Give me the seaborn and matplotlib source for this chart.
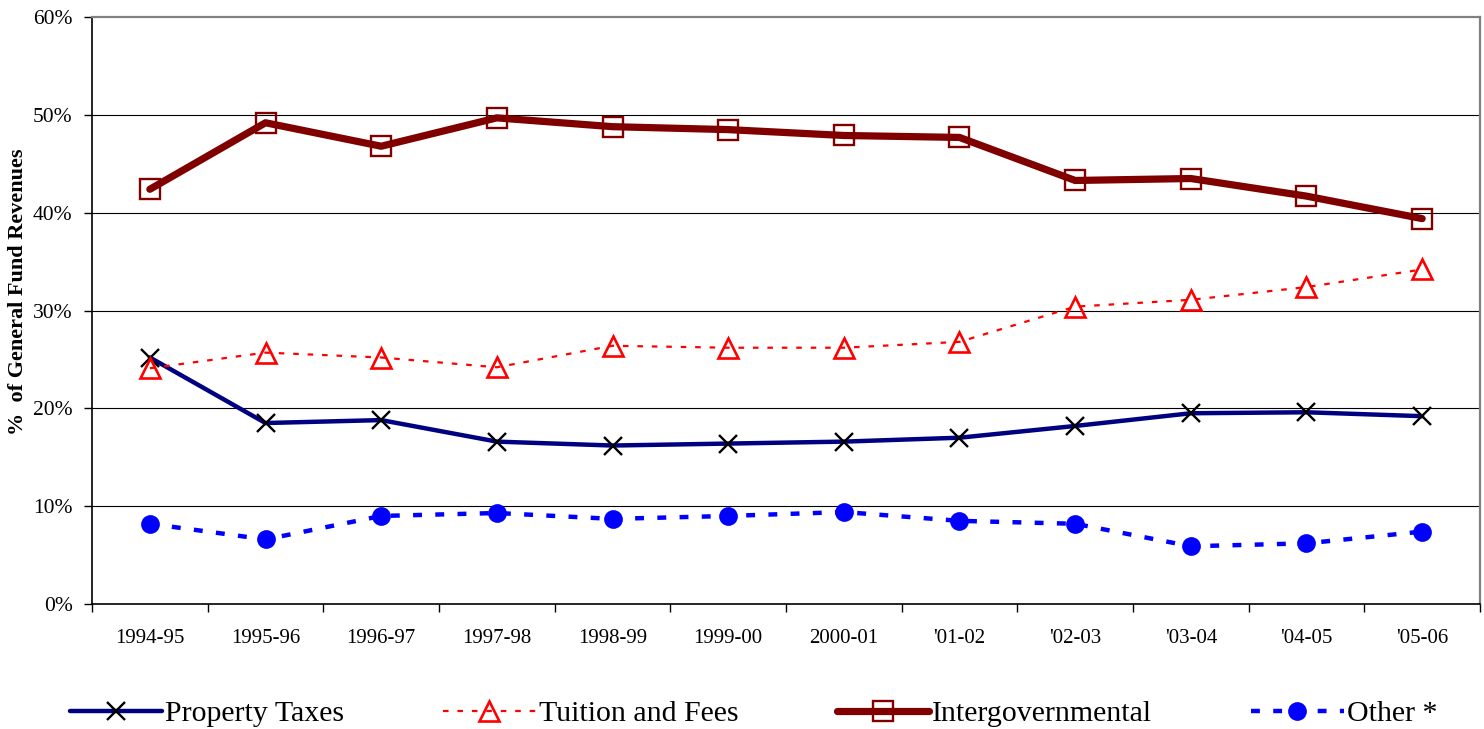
import numpy as np
import pandas as pd
import matplotlib
matplotlib.use("Agg")
import matplotlib.pyplot as plt
import seaborn as sns

# Fiscal years on the category axis
years = ["1994-95", "1995-96", "1996-97", "1997-98", "1998-99", "1999-00",
         "2000-01", "'01-02", "'02-03", "'03-04", "'04-05", "'05-06"]

# Share of general fund revenues (%)
property_taxes = [25.2, 18.5, 18.8, 16.6, 16.2, 16.4, 16.6, 17.0, 18.2, 19.5, 19.6, 19.2]
tuition_fees = [24.1, 25.7, 25.2, 24.2, 26.4, 26.2, 26.2, 26.8, 30.4, 31.1, 32.4, 34.2]
intergovernmental = [42.4, 49.2, 46.8, 49.7, 48.8, 48.5, 47.9, 47.7, 43.3, 43.5, 41.7, 39.4]
other = [8.2, 6.6, 9.0, 9.3, 8.7, 9.0, 9.4, 8.5, 8.2, 5.9, 6.2, 7.4]

y_ticks = [0, 10, 20, 30, 40, 50, 60]

sns.set_style("white")
plt.rcParams["font.family"] = ["Liberation Serif", "DejaVu Serif"]
plt.rcParams["text.color"] = "black"
plt.rcParams["xtick.color"] = "black"
plt.rcParams["ytick.color"] = "black"
plt.rcParams["xtick.labelcolor"] = "black"
plt.rcParams["ytick.labelcolor"] = "black"

df = pd.DataFrame({
    "pos": np.arange(len(years)),
    "Property Taxes": property_taxes,
    "Tuition and Fees": tuition_fees,
    "Intergovernmental": intergovernmental,
    "Other *": other,
})

fig = plt.figure(figsize=(14.84, 7.29), dpi=100)
ax = fig.add_axes([0.062, 0.1715, 0.9353, 0.805])

# Gridlines beneath the series
for v in y_ticks[1:-1]:
    ax.axhline(v, color="black", lw=0.8, zorder=0)

sns.lineplot(data=df, x="pos", y="Property Taxes", ax=ax, legend=False,
             color="#000080", lw=3.2, marker="x", ms=12.5, mew=1.7,
             mec="black", label="Property Taxes", zorder=3)
sns.lineplot(data=df, x="pos", y="Tuition and Fees", ax=ax, legend=False,
             color="#FF0000", lw=1.6, linestyle=(0, (2.5, 4.0)), marker="^",
             ms=14.5, mew=1.9, mec="#FF0000", mfc="none",
             label="Tuition and Fees", zorder=3)
sns.lineplot(data=df, x="pos", y="Intergovernmental", ax=ax, legend=False,
             color="#800000", lw=5.2, marker="s", ms=14.5, mew=1.7,
             mec="#800000", mfc="none", label="Intergovernmental", zorder=3)
sns.lineplot(data=df, x="pos", y="Other *", ax=ax, legend=False,
             color="#0000FF", lw=3.2, linestyle=(0, (2.0, 3.0)), marker="o",
             ms=13.5, mew=0, mfc="#0000FF", label="Other *", zorder=3)

ax.set_xlim(-0.5, len(years) - 0.5)
ax.set_ylim(0, 60)

# Category boundaries carry the tick marks, centers carry the labels
ax.set_xticks(np.arange(len(years) + 1) - 0.5)
ax.set_xticklabels([])
ax.set_xticks(np.arange(len(years)), minor=True)
ax.set_xticklabels(years, minor=True, fontsize=15)
ax.tick_params(axis="x", which="major", direction="out", length=6, width=1,
               color="black", bottom=True)
ax.tick_params(axis="x", which="minor", length=0, pad=18, bottom=True,
               labelcolor="black")

ax.set_yticks(y_ticks)
ax.set_yticklabels([f"{v}%" for v in y_ticks], fontsize=15.5)
ax.tick_params(axis="y", direction="out", length=6, width=1, color="black",
               left=True, pad=8, labelcolor="black")

ax.set_xlabel("")
ax.set_ylabel("")
fig.text(0.0121, 0.600, "%  of General Fund Revenues", rotation=90,
         ha="center", va="center", fontsize=16, fontweight="bold",
         color="black")

for side in ("left", "bottom"):
    ax.spines[side].set_color("black")
    ax.spines[side].set_linewidth(1.2)
for side in ("top", "right"):
    ax.spines[side].set_visible(True)
    ax.spines[side].set_color("#808080")
    ax.spines[side].set_linewidth(1.6)

handles, labels = ax.get_legend_handles_labels()
leg = fig.legend(handles, labels, loc="center", bbox_to_anchor=(0.5077, 0.021),
                 ncol=4, frameon=False, fontsize=21.5, handlelength=3.1,
                 handletextpad=0.1, columnspacing=3.3, numpoints=1)
for t in leg.get_texts():
    t.set_color("black")

fig.savefig("out.png", dpi=100)
